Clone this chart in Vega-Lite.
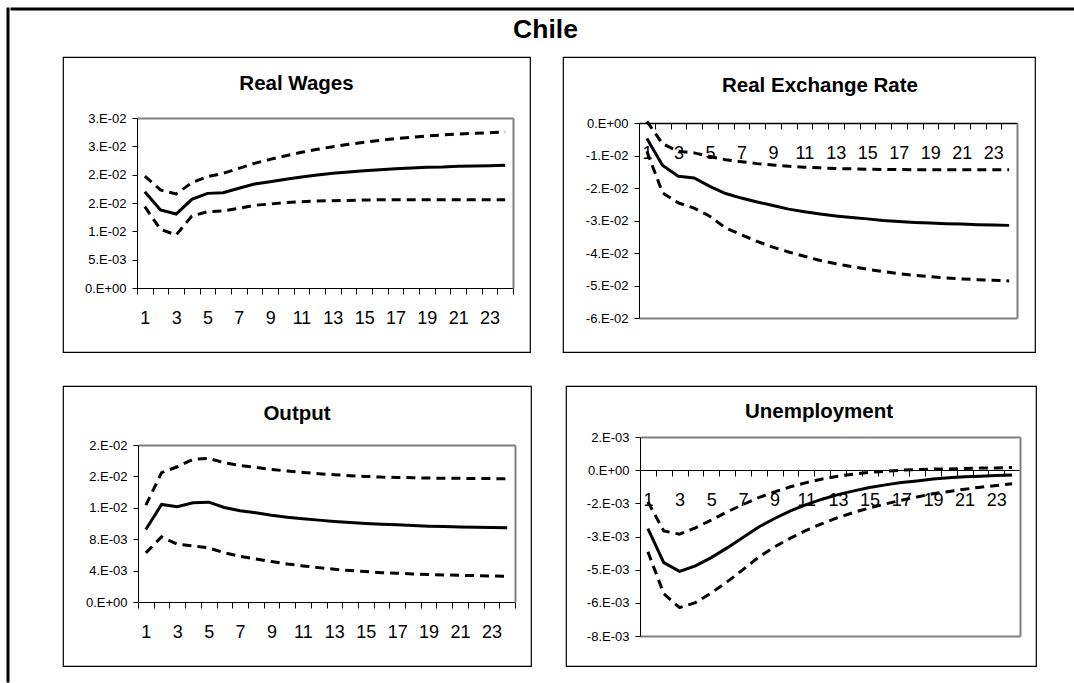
{
  "$schema": "https://vega.github.io/schema/vega-lite/v6.json",
  "background": "white",
  "padding": {"left": 6, "top": 7, "right": 0, "bottom": 0},
  "datasets": {"irf": [
    {"p":"RW","t":1,"mid":0.0170,"lo":0.01435,"hi":0.01976},
    {"p":"RW","t":2,"mid":0.01376,"lo":0.01035,"hi":0.0173},
    {"p":"RW","t":3,"mid":0.01306,"lo":0.00935,"hi":0.01659},
    {"p":"RW","t":4,"mid":0.01565,"lo":0.0127,"hi":0.01859},
    {"p":"RW","t":5,"mid":0.0167,"lo":0.01347,"hi":0.01965},
    {"p":"RW","t":6,"mid":0.01682,"lo":0.01359,"hi":0.02024},
    {"p":"RW","t":7,"mid":0.0176,"lo":0.01406,"hi":0.02112},
    {"p":"RW","t":8,"mid":0.01835,"lo":0.01459,"hi":0.022},
    {"p":"RW","t":9,"mid":0.01876,"lo":0.01482,"hi":0.0227},
    {"p":"RW","t":10,"mid":0.01918,"lo":0.01506,"hi":0.02335},
    {"p":"RW","t":11,"mid":0.01959,"lo":0.01523,"hi":0.02394},
    {"p":"RW","t":12,"mid":0.01994,"lo":0.01535,"hi":0.02447},
    {"p":"RW","t":13,"mid":0.02024,"lo":0.0154,"hi":0.02494},
    {"p":"RW","t":14,"mid":0.02047,"lo":0.01546,"hi":0.02535},
    {"p":"RW","t":15,"mid":0.0207,"lo":0.01552,"hi":0.02571},
    {"p":"RW","t":16,"mid":0.02088,"lo":0.01556,"hi":0.02606},
    {"p":"RW","t":17,"mid":0.02106,"lo":0.01559,"hi":0.02635},
    {"p":"RW","t":18,"mid":0.02118,"lo":0.01559,"hi":0.02659},
    {"p":"RW","t":19,"mid":0.0213,"lo":0.01559,"hi":0.02682},
    {"p":"RW","t":20,"mid":0.02135,"lo":0.01559,"hi":0.027},
    {"p":"RW","t":21,"mid":0.02147,"lo":0.01559,"hi":0.02718},
    {"p":"RW","t":22,"mid":0.02153,"lo":0.01559,"hi":0.0273},
    {"p":"RW","t":23,"mid":0.02159,"lo":0.01559,"hi":0.0274},
    {"p":"RW","t":24,"mid":0.02165,"lo":0.01559,"hi":0.02753},
    {"p":"RER","t":1,"mid":-0.0048,"lo":-0.0087,"hi":0.0005},
    {"p":"RER","t":2,"mid":-0.0131,"lo":-0.0215,"hi":-0.0064},
    {"p":"RER","t":3,"mid":-0.0164,"lo":-0.0246,"hi":-0.0087},
    {"p":"RER","t":4,"mid":-0.0169,"lo":-0.0262,"hi":-0.0092},
    {"p":"RER","t":5,"mid":-0.0195,"lo":-0.0287,"hi":-0.0103},
    {"p":"RER","t":6,"mid":-0.0217,"lo":-0.0323,"hi":-0.0113},
    {"p":"RER","t":7,"mid":-0.0231,"lo":-0.0344,"hi":-0.0119},
    {"p":"RER","t":8,"mid":-0.0243,"lo":-0.0364,"hi":-0.0125},
    {"p":"RER","t":9,"mid":-0.0254,"lo":-0.0382,"hi":-0.0129},
    {"p":"RER","t":10,"mid":-0.0265,"lo":-0.0397,"hi":-0.0133},
    {"p":"RER","t":11,"mid":-0.0273,"lo":-0.041,"hi":-0.0136},
    {"p":"RER","t":12,"mid":-0.028,"lo":-0.0423,"hi":-0.0138},
    {"p":"RER","t":13,"mid":-0.0286,"lo":-0.0433,"hi":-0.014},
    {"p":"RER","t":14,"mid":-0.0291,"lo":-0.0442,"hi":-0.0141},
    {"p":"RER","t":15,"mid":-0.0295,"lo":-0.045,"hi":-0.0142},
    {"p":"RER","t":16,"mid":-0.03,"lo":-0.0457,"hi":-0.0143},
    {"p":"RER","t":17,"mid":-0.0303,"lo":-0.0464,"hi":-0.0143},
    {"p":"RER","t":18,"mid":-0.0306,"lo":-0.0469,"hi":-0.0144},
    {"p":"RER","t":19,"mid":-0.0308,"lo":-0.0473,"hi":-0.0144},
    {"p":"RER","t":20,"mid":-0.031,"lo":-0.0477,"hi":-0.0144},
    {"p":"RER","t":21,"mid":-0.0311,"lo":-0.048,"hi":-0.0144},
    {"p":"RER","t":22,"mid":-0.0313,"lo":-0.0482,"hi":-0.0144},
    {"p":"RER","t":23,"mid":-0.0314,"lo":-0.0484,"hi":-0.0144},
    {"p":"RER","t":24,"mid":-0.0315,"lo":-0.0486,"hi":-0.0144},
    {"p":"OUT","t":1,"mid":0.00923,"lo":0.00626,"hi":0.01234},
    {"p":"OUT","t":2,"mid":0.01243,"lo":0.0083,"hi":0.01647},
    {"p":"OUT","t":3,"mid":0.01213,"lo":0.00736,"hi":0.01723},
    {"p":"OUT","t":4,"mid":0.01264,"lo":0.00715,"hi":0.01817},
    {"p":"OUT","t":5,"mid":0.01272,"lo":0.00689,"hi":0.0183},
    {"p":"OUT","t":6,"mid":0.01204,"lo":0.00626,"hi":0.01774},
    {"p":"OUT","t":7,"mid":0.01162,"lo":0.00583,"hi":0.0174},
    {"p":"OUT","t":8,"mid":0.01136,"lo":0.00549,"hi":0.01715},
    {"p":"OUT","t":9,"mid":0.01106,"lo":0.00515,"hi":0.01689},
    {"p":"OUT","t":10,"mid":0.01081,"lo":0.00485,"hi":0.01668},
    {"p":"OUT","t":11,"mid":0.0106,"lo":0.0046,"hi":0.01651},
    {"p":"OUT","t":12,"mid":0.01043,"lo":0.00438,"hi":0.01634},
    {"p":"OUT","t":13,"mid":0.01026,"lo":0.00417,"hi":0.01621},
    {"p":"OUT","t":14,"mid":0.01013,"lo":0.004,"hi":0.01609},
    {"p":"OUT","t":15,"mid":0.01,"lo":0.00387,"hi":0.016},
    {"p":"OUT","t":16,"mid":0.00991,"lo":0.00374,"hi":0.01591},
    {"p":"OUT","t":17,"mid":0.00983,"lo":0.00366,"hi":0.01587},
    {"p":"OUT","t":18,"mid":0.00974,"lo":0.00357,"hi":0.01583},
    {"p":"OUT","t":19,"mid":0.00966,"lo":0.00349,"hi":0.01579},
    {"p":"OUT","t":20,"mid":0.00962,"lo":0.00345,"hi":0.01577},
    {"p":"OUT","t":21,"mid":0.00957,"lo":0.0034,"hi":0.01575},
    {"p":"OUT","t":22,"mid":0.00953,"lo":0.00336,"hi":0.01574},
    {"p":"OUT","t":23,"mid":0.00949,"lo":0.00332,"hi":0.01572},
    {"p":"OUT","t":24,"mid":0.00945,"lo":0.00328,"hi":0.0157},
    {"p":"UN","t":1,"mid":-0.00282,"lo":-0.00394,"hi":-0.00153},
    {"p":"UN","t":2,"mid":-0.00446,"lo":-0.00596,"hi":-0.00293},
    {"p":"UN","t":3,"mid":-0.00488,"lo":-0.00663,"hi":-0.00309},
    {"p":"UN","t":4,"mid":-0.00462,"lo":-0.00639,"hi":-0.00278},
    {"p":"UN","t":5,"mid":-0.00422,"lo":-0.00592,"hi":-0.00241},
    {"p":"UN","t":6,"mid":-0.00375,"lo":-0.00539,"hi":-0.00201},
    {"p":"UN","t":7,"mid":-0.00325,"lo":-0.0048,"hi":-0.00166},
    {"p":"UN","t":8,"mid":-0.00274,"lo":-0.00419,"hi":-0.00132},
    {"p":"UN","t":9,"mid":-0.00233,"lo":-0.0037,"hi":-0.00105},
    {"p":"UN","t":10,"mid":-0.00196,"lo":-0.00328,"hi":-0.0008},
    {"p":"UN","t":11,"mid":-0.00166,"lo":-0.0029,"hi":-0.0006},
    {"p":"UN","t":12,"mid":-0.0014,"lo":-0.00258,"hi":-0.00043},
    {"p":"UN","t":13,"mid":-0.00118,"lo":-0.00229,"hi":-0.00029},
    {"p":"UN","t":14,"mid":-0.001,"lo":-0.00204,"hi":-0.00019},
    {"p":"UN","t":15,"mid":-0.00084,"lo":-0.00182,"hi":-0.00011},
    {"p":"UN","t":16,"mid":-0.00071,"lo":-0.00163,"hi":-0.00005},
    {"p":"UN","t":17,"mid":-0.0006,"lo":-0.00145,"hi":0.0},
    {"p":"UN","t":18,"mid":-0.00052,"lo":-0.00129,"hi":0.00003},
    {"p":"UN","t":19,"mid":-0.00043,"lo":-0.00114,"hi":0.00005},
    {"p":"UN","t":20,"mid":-0.00037,"lo":-0.00103,"hi":0.00006},
    {"p":"UN","t":21,"mid":-0.00032,"lo":-0.00092,"hi":0.00008},
    {"p":"UN","t":22,"mid":-0.00029,"lo":-0.00082,"hi":0.0001},
    {"p":"UN","t":23,"mid":-0.00026,"lo":-0.00074,"hi":0.00011},
    {"p":"UN","t":24,"mid":-0.00023,"lo":-0.00066,"hi":0.00013}
  ], "none": []},
  "spacing": 0,
  "hconcat": [
    {"data": {"name": "none"}, "mark": "point", "encoding": {}, "width": 0.001, "height": 672, "view": {"stroke": "#000", "strokeWidth": 3}},
    {"spacing": 5, "vconcat": [
      {"data": {"name": "none"}, "mark": "point", "encoding": {}, "width": 1062, "height": 0.001, "view": {"stroke": "#000", "strokeWidth": 3}},
      {"spacing": 49, "hconcat": [
        {"data": {"name": "none"}, "mark": "point", "encoding": {}, "width": 1, "height": 1, "view": {"stroke": null, "fill": "white"}},
        {"spacing": 32,
         "title": {"text": "Chile", "fontSize": 26.5, "font": "Liberation Sans", "fontWeight": "bold", "anchor": "middle", "offset": -8, "baseline": "alphabetic", "color": "#000", "dx": -4},
         "vconcat": [
          {"spacing": 31, "hconcat": [
            {"width": 467, "height": 295, "data": {"name": "irf"},
             "title": {"text": "Real Wages", "offset": -53, "baseline": "alphabetic", "frame": "group", "anchor": "middle", "fontSize": 20.5, "font": "Liberation Sans", "fontWeight": "bold", "color": "#000"},
             "transform": [{"filter": "datum.p == 'RW'"}],
             "layer": [
               {"transform": [{"fold": ["lo", "hi"], "as": ["band", "val"]}],
                "mark": {"type": "line", "color": "#000", "strokeWidth": 3, "strokeDash": [9, 6], "strokeCap": "butt"},
                "encoding": {
                  "x": {"field": "t", "type": "ordinal", "bandPosition": 0.5, "scale": {"type": "band", "paddingInner": 0, "paddingOuter": 0, "range": [74, 450]},
                        "axis": {"orient": "top", "offset": -61, "domainColor": "#808080", "domainWidth": 2, "ticks": false, "labels": false, "title": null, "grid": false}},
                  "y": {"field": "val", "type": "quantitative", "scale": {"domain": [0, 0.03], "range": [231, 61], "nice": false, "zero": false},
                        "axis": {"orient": "right", "offset": -17, "domainColor": "#808080", "domainWidth": 2, "ticks": false, "labels": false, "title": null, "grid": false}},
                  "detail": {"field": "band"}
                }},
               {"mark": {"type": "line", "color": "#000", "strokeWidth": 3},
                "encoding": {
                  "x": {"field": "t", "type": "ordinal", "bandPosition": 0.5, "scale": {"type": "band", "paddingInner": 0, "paddingOuter": 0, "range": [74, 450]},
                        "axis": {"orient": "bottom", "offset": -64, "tickBand": "extent", "labelAngle": 0, "labelExpr": "datum.value % 2 == 1 ? datum.label : ''", "labelFontSize": 18, "labelFont": "Liberation Sans", "labelColor": "#000", "labelPadding": 15, "tickSize": 6, "tickColor": "#000", "domainColor": "#000", "title": null, "grid": false, "labelOverlap": false}},
                  "y": {"field": "mid", "type": "quantitative", "scale": {"domain": [0, 0.03], "range": [231, 61], "nice": false, "zero": false},
                        "axis": {"orient": "left", "offset": -74, "values": [0, 0.005, 0.01, 0.015, 0.02, 0.025, 0.03], "labelExpr": "datum.value == 0 ? '0.E+00' : (datum.value < 0 ? '-' : '') + round(abs(datum.value) / pow(10, floor(log(abs(datum.value)) / LN10 + 1e-9)) + 1e-9) + '.E' + (floor(log(abs(datum.value)) / LN10 + 1e-9) < 0 ? '-' : '+') + '0' + abs(floor(log(abs(datum.value)) / LN10 + 1e-9))", "labelFontSize": 13, "labelFont": "Liberation Sans", "labelColor": "#000", "labelPadding": 6, "tickSize": 5, "tickColor": "#000", "domainColor": "#000", "title": null, "grid": false}}
                }}
             ],
             "resolve": {"axis": {"x": "independent", "y": "independent"}}
            },
            {"width": 472, "height": 295, "data": {"name": "irf"},
             "title": {"text": "Real Exchange Rate", "offset": -55, "dx": 21, "baseline": "alphabetic", "frame": "group", "anchor": "middle", "fontSize": 20.5, "font": "Liberation Sans", "fontWeight": "bold", "color": "#000"},
             "transform": [{"filter": "datum.p == 'RER'"}],
             "layer": [
               {"transform": [{"fold": ["lo", "hi"], "as": ["band", "val"]}],
                "mark": {"type": "line", "color": "#000", "strokeWidth": 3, "strokeDash": [9, 6], "strokeCap": "butt"},
                "encoding": {
                  "x": {"field": "t", "type": "ordinal", "bandPosition": 0.5, "scale": {"type": "band", "paddingInner": 0, "paddingOuter": 0, "range": [76, 454]},
                        "axis": {"orient": "top", "offset": -66, "domainColor": "#808080", "domainWidth": 2, "ticks": false, "labels": false, "title": null, "grid": false}},
                  "y": {"field": "val", "type": "quantitative", "scale": {"domain": [-0.06, 0], "range": [261, 66], "nice": false, "zero": false},
                        "axis": {"orient": "right", "offset": -18, "domainColor": "#808080", "domainWidth": 2, "ticks": false, "labels": false, "title": null, "grid": false}},
                  "detail": {"field": "band"}
                }},
               {"mark": {"type": "line", "color": "#000", "strokeWidth": 3, "opacity": 0},
                "encoding": {
                  "x": {"field": "t", "type": "ordinal", "bandPosition": 0.5, "scale": {"type": "band", "paddingInner": 0, "paddingOuter": 0, "range": [76, 454]},
                        "axis": {"orient": "bottom", "offset": -34, "domainColor": "#808080", "domainWidth": 2, "ticks": false, "labels": false, "title": null, "grid": false}},
                  "y": {"field": "mid", "type": "quantitative", "scale": {"domain": [-0.06, 0], "range": [261, 66], "nice": false, "zero": false}, "axis": null}
                }},
               {"mark": {"type": "line", "color": "#000", "strokeWidth": 3},
                "encoding": {
                  "x": {"field": "t", "type": "ordinal", "bandPosition": 0.5, "scale": {"type": "band", "paddingInner": 0, "paddingOuter": 0, "range": [76, 454]},
                        "axis": {"orient": "bottom", "offset": -229, "tickBand": "extent", "labelAngle": 0, "labelExpr": "datum.value % 2 == 1 ? datum.label : ''", "labelFontSize": 18, "labelFont": "Liberation Sans", "labelColor": "#000", "labelPadding": 15, "tickSize": 6, "tickColor": "#000", "domainColor": "#000", "title": null, "grid": false, "labelOverlap": false}},
                  "y": {"field": "mid", "type": "quantitative", "scale": {"domain": [-0.06, 0], "range": [261, 66], "nice": false, "zero": false},
                        "axis": {"orient": "left", "offset": -76, "values": [0, -0.01, -0.02, -0.03, -0.04, -0.05, -0.06], "labelExpr": "datum.value == 0 ? '0.E+00' : (datum.value < 0 ? '-' : '') + round(abs(datum.value) / pow(10, floor(log(abs(datum.value)) / LN10 + 1e-9)) + 1e-9) + '.E' + (floor(log(abs(datum.value)) / LN10 + 1e-9) < 0 ? '-' : '+') + '0' + abs(floor(log(abs(datum.value)) / LN10 + 1e-9))", "labelFontSize": 13, "labelFont": "Liberation Sans", "labelColor": "#000", "labelPadding": 6, "tickSize": 5, "tickColor": "#000", "domainColor": "#000", "title": null, "grid": false}}
                }}
             ],
             "resolve": {"axis": {"x": "independent", "y": "independent"}}
            }
          ]},
          {"spacing": 33, "hconcat": [
            {"width": 468, "height": 280, "data": {"name": "irf"},
             "title": {"text": "Output", "offset": -54, "baseline": "alphabetic", "frame": "group", "anchor": "middle", "fontSize": 20.5, "font": "Liberation Sans", "fontWeight": "bold", "color": "#000"},
             "transform": [{"filter": "datum.p == 'OUT'"}],
             "layer": [
               {"transform": [{"fold": ["lo", "hi"], "as": ["band", "val"]}],
                "mark": {"type": "line", "color": "#000", "strokeWidth": 3, "strokeDash": [9, 6], "strokeCap": "butt"},
                "encoding": {
                  "x": {"field": "t", "type": "ordinal", "bandPosition": 0.5, "scale": {"type": "band", "paddingInner": 0, "paddingOuter": 0, "range": [75, 452]},
                        "axis": {"orient": "top", "offset": -59, "domainColor": "#808080", "domainWidth": 2, "ticks": false, "labels": false, "title": null, "grid": false}},
                  "y": {"field": "val", "type": "quantitative", "scale": {"domain": [0, 0.02], "range": [216, 59], "nice": false, "zero": false},
                        "axis": {"orient": "right", "offset": -16, "domainColor": "#808080", "domainWidth": 2, "ticks": false, "labels": false, "title": null, "grid": false}},
                  "detail": {"field": "band"}
                }},
               {"mark": {"type": "line", "color": "#000", "strokeWidth": 3},
                "encoding": {
                  "x": {"field": "t", "type": "ordinal", "bandPosition": 0.5, "scale": {"type": "band", "paddingInner": 0, "paddingOuter": 0, "range": [75, 452]},
                        "axis": {"orient": "bottom", "offset": -64, "tickBand": "extent", "labelAngle": 0, "labelExpr": "datum.value % 2 == 1 ? datum.label : ''", "labelFontSize": 18, "labelFont": "Liberation Sans", "labelColor": "#000", "labelPadding": 15, "tickSize": 6, "tickColor": "#000", "domainColor": "#000", "title": null, "grid": false, "labelOverlap": false}},
                  "y": {"field": "mid", "type": "quantitative", "scale": {"domain": [0, 0.02], "range": [216, 59], "nice": false, "zero": false},
                        "axis": {"orient": "left", "offset": -75, "values": [0, 0.004, 0.008, 0.012, 0.016, 0.02], "labelExpr": "datum.value == 0 ? '0.E+00' : (datum.value < 0 ? '-' : '') + round(abs(datum.value) / pow(10, floor(log(abs(datum.value)) / LN10 + 1e-9)) + 1e-9) + '.E' + (floor(log(abs(datum.value)) / LN10 + 1e-9) < 0 ? '-' : '+') + '0' + abs(floor(log(abs(datum.value)) / LN10 + 1e-9))", "labelFontSize": 13, "labelFont": "Liberation Sans", "labelColor": "#000", "labelPadding": 6, "tickSize": 5, "tickColor": "#000", "domainColor": "#000", "title": null, "grid": false}}
                }}
             ],
             "resolve": {"axis": {"x": "independent", "y": "independent"}}
            },
            {"width": 470, "height": 280, "data": {"name": "irf"},
             "title": {"text": "Unemployment", "offset": -52, "dx": 18, "baseline": "alphabetic", "frame": "group", "anchor": "middle", "fontSize": 20.5, "font": "Liberation Sans", "fontWeight": "bold", "color": "#000"},
             "transform": [{"filter": "datum.p == 'UN'"}],
             "layer": [
               {"transform": [{"fold": ["lo", "hi"], "as": ["band", "val"]}],
                "mark": {"type": "line", "color": "#000", "strokeWidth": 3, "strokeDash": [9, 6], "strokeCap": "butt"},
                "encoding": {
                  "x": {"field": "t", "type": "ordinal", "bandPosition": 0.5, "scale": {"type": "band", "paddingInner": 0, "paddingOuter": 0, "range": [74, 454]},
                        "axis": {"orient": "top", "offset": -51, "domainColor": "#808080", "domainWidth": 2, "ticks": false, "labels": false, "title": null, "grid": false}},
                  "y": {"field": "val", "type": "quantitative", "scale": {"domain": [-0.008, 0.0016], "range": [250, 51], "nice": false, "zero": false},
                        "axis": {"orient": "right", "offset": -16, "domainColor": "#808080", "domainWidth": 2, "ticks": false, "labels": false, "title": null, "grid": false}},
                  "detail": {"field": "band"}
                }},
               {"mark": {"type": "line", "color": "#000", "strokeWidth": 3, "opacity": 0},
                "encoding": {
                  "x": {"field": "t", "type": "ordinal", "bandPosition": 0.5, "scale": {"type": "band", "paddingInner": 0, "paddingOuter": 0, "range": [74, 454]},
                        "axis": {"orient": "bottom", "offset": -30, "domainColor": "#808080", "domainWidth": 2, "ticks": false, "labels": false, "title": null, "grid": false}},
                  "y": {"field": "mid", "type": "quantitative", "scale": {"domain": [-0.008, 0.0016], "range": [250, 51], "nice": false, "zero": false}, "axis": null}
                }},
               {"mark": {"type": "line", "color": "#000", "strokeWidth": 3},
                "encoding": {
                  "x": {"field": "t", "type": "ordinal", "bandPosition": 0.5, "scale": {"type": "band", "paddingInner": 0, "paddingOuter": 0, "range": [74, 454]},
                        "axis": {"orient": "bottom", "offset": -196, "tickBand": "extent", "labelAngle": 0, "labelExpr": "datum.value % 2 == 1 ? datum.label : ''", "labelFontSize": 18, "labelFont": "Liberation Sans", "labelColor": "#000", "labelPadding": 15, "tickSize": 6, "tickColor": "#000", "domainColor": "#000", "title": null, "grid": false, "labelOverlap": false}},
                  "y": {"field": "mid", "type": "quantitative", "scale": {"domain": [-0.008, 0.0016], "range": [250, 51], "nice": false, "zero": false},
                        "axis": {"orient": "left", "offset": -74, "values": [0.0016, 0, -0.0016, -0.0032, -0.0048, -0.0064, -0.008], "labelExpr": "datum.value == 0 ? '0.E+00' : (datum.value < 0 ? '-' : '') + round(abs(datum.value) / pow(10, floor(log(abs(datum.value)) / LN10 + 1e-9)) + 1e-9) + '.E' + (floor(log(abs(datum.value)) / LN10 + 1e-9) < 0 ? '-' : '+') + '0' + abs(floor(log(abs(datum.value)) / LN10 + 1e-9))", "labelFontSize": 13, "labelFont": "Liberation Sans", "labelColor": "#000", "labelPadding": 6, "tickSize": 5, "tickColor": "#000", "domainColor": "#000", "title": null, "grid": false}}
                }}
             ],
             "resolve": {"axis": {"x": "independent", "y": "independent"}}
            }
          ]}
        ]}
      ]}
    ]}
  ],
  "config": {
    "view": {"stroke": "#000", "strokeWidth": 1.2},
    "font": "Liberation Sans"
  }
}
